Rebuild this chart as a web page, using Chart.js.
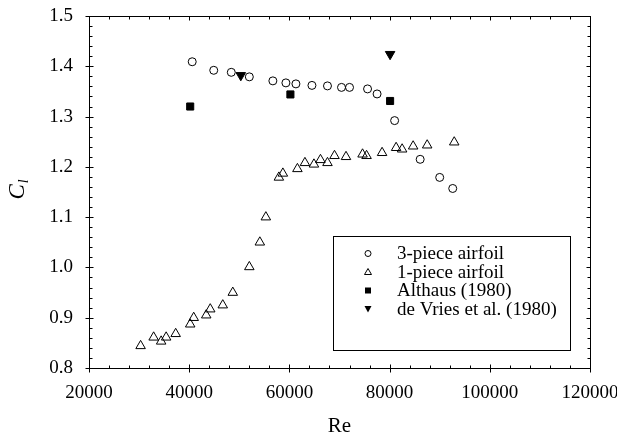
<!DOCTYPE html>
<html><head><meta charset="utf-8">
<script src="https://cdn.jsdelivr.net/npm/chart.js@4.4.0/dist/chart.umd.min.js"></script>
<style>html,body{margin:0;padding:0;background:#fff}#wrap{width:617px;height:441px}</style>
</head><body><div id="wrap"><canvas id="c" width="617" height="441"></canvas></div>
<script>
// 3-piece airfoil
const re3 = [40600, 44900, 48400, 52000, 56700, 59300, 61300, 64500, 67600, 70400, 72000, 75600, 77500, 81000, 86100, 90000, 92600];
const cl3 = [1.409, 1.392, 1.388, 1.379, 1.371, 1.367, 1.365, 1.362, 1.361, 1.358, 1.358, 1.355, 1.345, 1.292, 1.215, 1.179, 1.157];
// 1-piece airfoil
const re1 = [30300, 32900, 34400, 35400, 37300, 40200, 40900, 43400, 44200, 46700, 48700, 52000, 54100, 55300, 57900, 58700, 61600, 63100, 64900, 66200, 67600, 69000, 71300, 74600, 75400, 78500, 81300, 82500, 84700, 87500, 92900];
const cl1 = [0.844, 0.861, 0.853, 0.861, 0.868, 0.887, 0.900, 0.905, 0.917, 0.925, 0.950, 1.001, 1.050, 1.100, 1.179, 1.187, 1.196, 1.208, 1.205, 1.214, 1.208, 1.222, 1.220, 1.225, 1.222, 1.228, 1.238, 1.235, 1.241, 1.243, 1.249];
// Althaus (1980)
const reAlthaus = [40200, 60200, 80100];
const clAlthaus = [1.320, 1.344, 1.331];
// de Vries et al. (1980)
const reDeVries = [50300, 80100];
const clDeVries = [1.382, 1.424];

const seriesLabels = ['3-piece airfoil', '1-piece airfoil', 'Althaus (1980)', 'de Vries et al. (1980)'];
const xTickValues = [20000, 40000, 60000, 80000, 100000, 120000];
const yTickValues = [0.8, 0.9, 1.0, 1.1, 1.2, 1.3, 1.4, 1.5];
const xMinorStep = 4000;
const yMinorStep = 0.02;

const F = '"Liberation Serif", "Times New Roman", serif';
const pts = (xs, ys) => xs.map((v, i) => ({x: v, y: ys[i]}));

const framePlugin = {
  id: 'frame',
  afterDraw(chart) {
    const {ctx, chartArea: a, scales: {x, y}} = chart;
    ctx.save();
    ctx.strokeStyle = '#000';
    ctx.lineWidth = 1;
    const L = Math.round(a.left) + 0.5, R = Math.round(a.right) + 0.5;
    const T = Math.round(a.top) + 0.5, B = Math.round(a.bottom) + 0.5;
    ctx.strokeRect(L, T, R - L, B - T);
    ctx.beginPath();
    for (let v = 20000; v <= 120000 + 1; v += xMinorStep) {
      const px = Math.round(x.getPixelForValue(v)) + 0.5;
      const major = v % 20000 === 0;
      if (major) {
        ctx.moveTo(px, B + 4); ctx.lineTo(px, B - 4);
        ctx.moveTo(px, T); ctx.lineTo(px, T + 4);
      } else {
        ctx.moveTo(px, B); ctx.lineTo(px, B - 3);
        ctx.moveTo(px, T); ctx.lineTo(px, T + 3);
      }
    }
    for (let k = 0; k <= 35; k++) {
      const v = 0.8 + k * yMinorStep;
      const py = Math.round(y.getPixelForValue(v)) + 0.5;
      const major = k % 5 === 0;
      if (major) {
        ctx.moveTo(L - 4, py); ctx.lineTo(L + 4, py);
        ctx.moveTo(R, py); ctx.lineTo(R - 4, py);
      } else {
        ctx.moveTo(L, py); ctx.lineTo(L + 3, py);
        ctx.moveTo(R, py); ctx.lineTo(R - 3, py);
      }
    }
    ctx.stroke();

    // y-axis title C_l
    ctx.fillStyle = '#000';
    ctx.translate(24, 190);
    ctx.rotate(-Math.PI / 2);
    ctx.textBaseline = 'alphabetic';
    ctx.textAlign = 'left';
    ctx.font = 'italic 23px ' + F;
    const wC = ctx.measureText('C').width;
    ctx.font = 'italic 14px ' + F;
    const wl = ctx.measureText('l').width;
    const x0 = -(wC + wl) / 2;
    ctx.font = 'italic 23px ' + F;
    ctx.fillText('C', x0, 0);
    ctx.font = 'italic 14px ' + F;
    ctx.fillText('l', x0 + wC + 1, 4);
    ctx.restore();

    // legend
    ctx.save();
    ctx.strokeStyle = '#000';
    ctx.lineWidth = 1;
    ctx.strokeRect(333.5, 236.5, 237, 114);
    ctx.font = '19px ' + F;
    ctx.fillStyle = '#000';
    ctx.textBaseline = 'middle';
    ctx.textAlign = 'left';
    const mx = 368;
    seriesLabels.forEach((lab, i) => {
      const cy = 253.5 + i * 18.5;
      ctx.beginPath();
      if (i === 0) {
        ctx.arc(mx, cy, 3, 0, Math.PI * 2); ctx.stroke();
      } else if (i === 1) {
        ctx.moveTo(mx, cy - 3.5); ctx.lineTo(mx + 3.5, cy + 2.5); ctx.lineTo(mx - 3.5, cy + 2.5); ctx.closePath(); ctx.stroke();
      } else if (i === 2) {
        ctx.fillRect(mx - 3, cy - 3, 6, 6);
      } else {
        ctx.moveTo(mx - 3.5, cy - 3); ctx.lineTo(mx + 3.5, cy - 3); ctx.lineTo(mx, cy + 3.5); ctx.closePath(); ctx.fill();
      }
      ctx.fillText(lab, 397, cy + 1);
    });
    ctx.restore();
  }
};

new Chart(document.getElementById('c'), {
  type: 'scatter',
  data: {
    datasets: [
      {label: seriesLabels[0], data: pts(re3, cl3), pointStyle: 'circle', pointRadius: 4, borderColor: '#000', backgroundColor: 'rgba(0,0,0,0)', borderWidth: 1},
      {label: seriesLabels[1], data: pts(re1, cl1), pointStyle: 'triangle', pointRadius: 5.5, borderColor: '#000', backgroundColor: 'rgba(0,0,0,0)', borderWidth: 1},
      {label: seriesLabels[2], data: pts(reAlthaus, clAlthaus), pointStyle: 'rect', pointRadius: 5, borderColor: '#000', backgroundColor: '#000', borderWidth: 1},
      {label: seriesLabels[3], data: pts(reDeVries, clDeVries), pointStyle: 'triangle', rotation: 180, pointRotation: 180, pointRadius: 5.5, borderColor: '#000', backgroundColor: '#000', borderWidth: 1}
    ]
  },
  options: {
    responsive: false,
    animation: false,
    layout: {padding: {top: 16, right: 27, left: 0, bottom: 0}},
    plugins: {legend: {display: false}, tooltip: {enabled: false}},
    scales: {
      x: {
        type: 'linear', min: 20000, max: 120000,
        afterBuildTicks(s) { s.ticks = xTickValues.map(v => ({value: v})); },
        grid: {display: false, drawTicks: false},
        border: {display: false},
        ticks: {font: {family: F, size: 19}, color: '#000', padding: 14, maxRotation: 0, autoSkip: false, callback: v => String(v)},
        title: {display: true, text: 'Re', font: {family: F, size: 21}, color: '#000', padding: {top: 4, bottom: 2}},
        afterFit(s) { s.height = 73; s.paddingLeft = 0; s.paddingRight = 0; }
      },
      y: {
        type: 'linear', min: 0.8, max: 1.5,
        afterBuildTicks(s) { s.ticks = yTickValues.map(v => ({value: v})); },
        grid: {display: false, drawTicks: false},
        border: {display: false},
        ticks: {font: {family: F, size: 19}, color: '#000', padding: 16, autoSkip: false, callback: v => Number(v).toFixed(1)},
        afterFit(s) { s.width = 89; s.paddingTop = 0; s.paddingBottom = 0; }
      }
    }
  },
  plugins: [framePlugin]
});
</script></body></html>
